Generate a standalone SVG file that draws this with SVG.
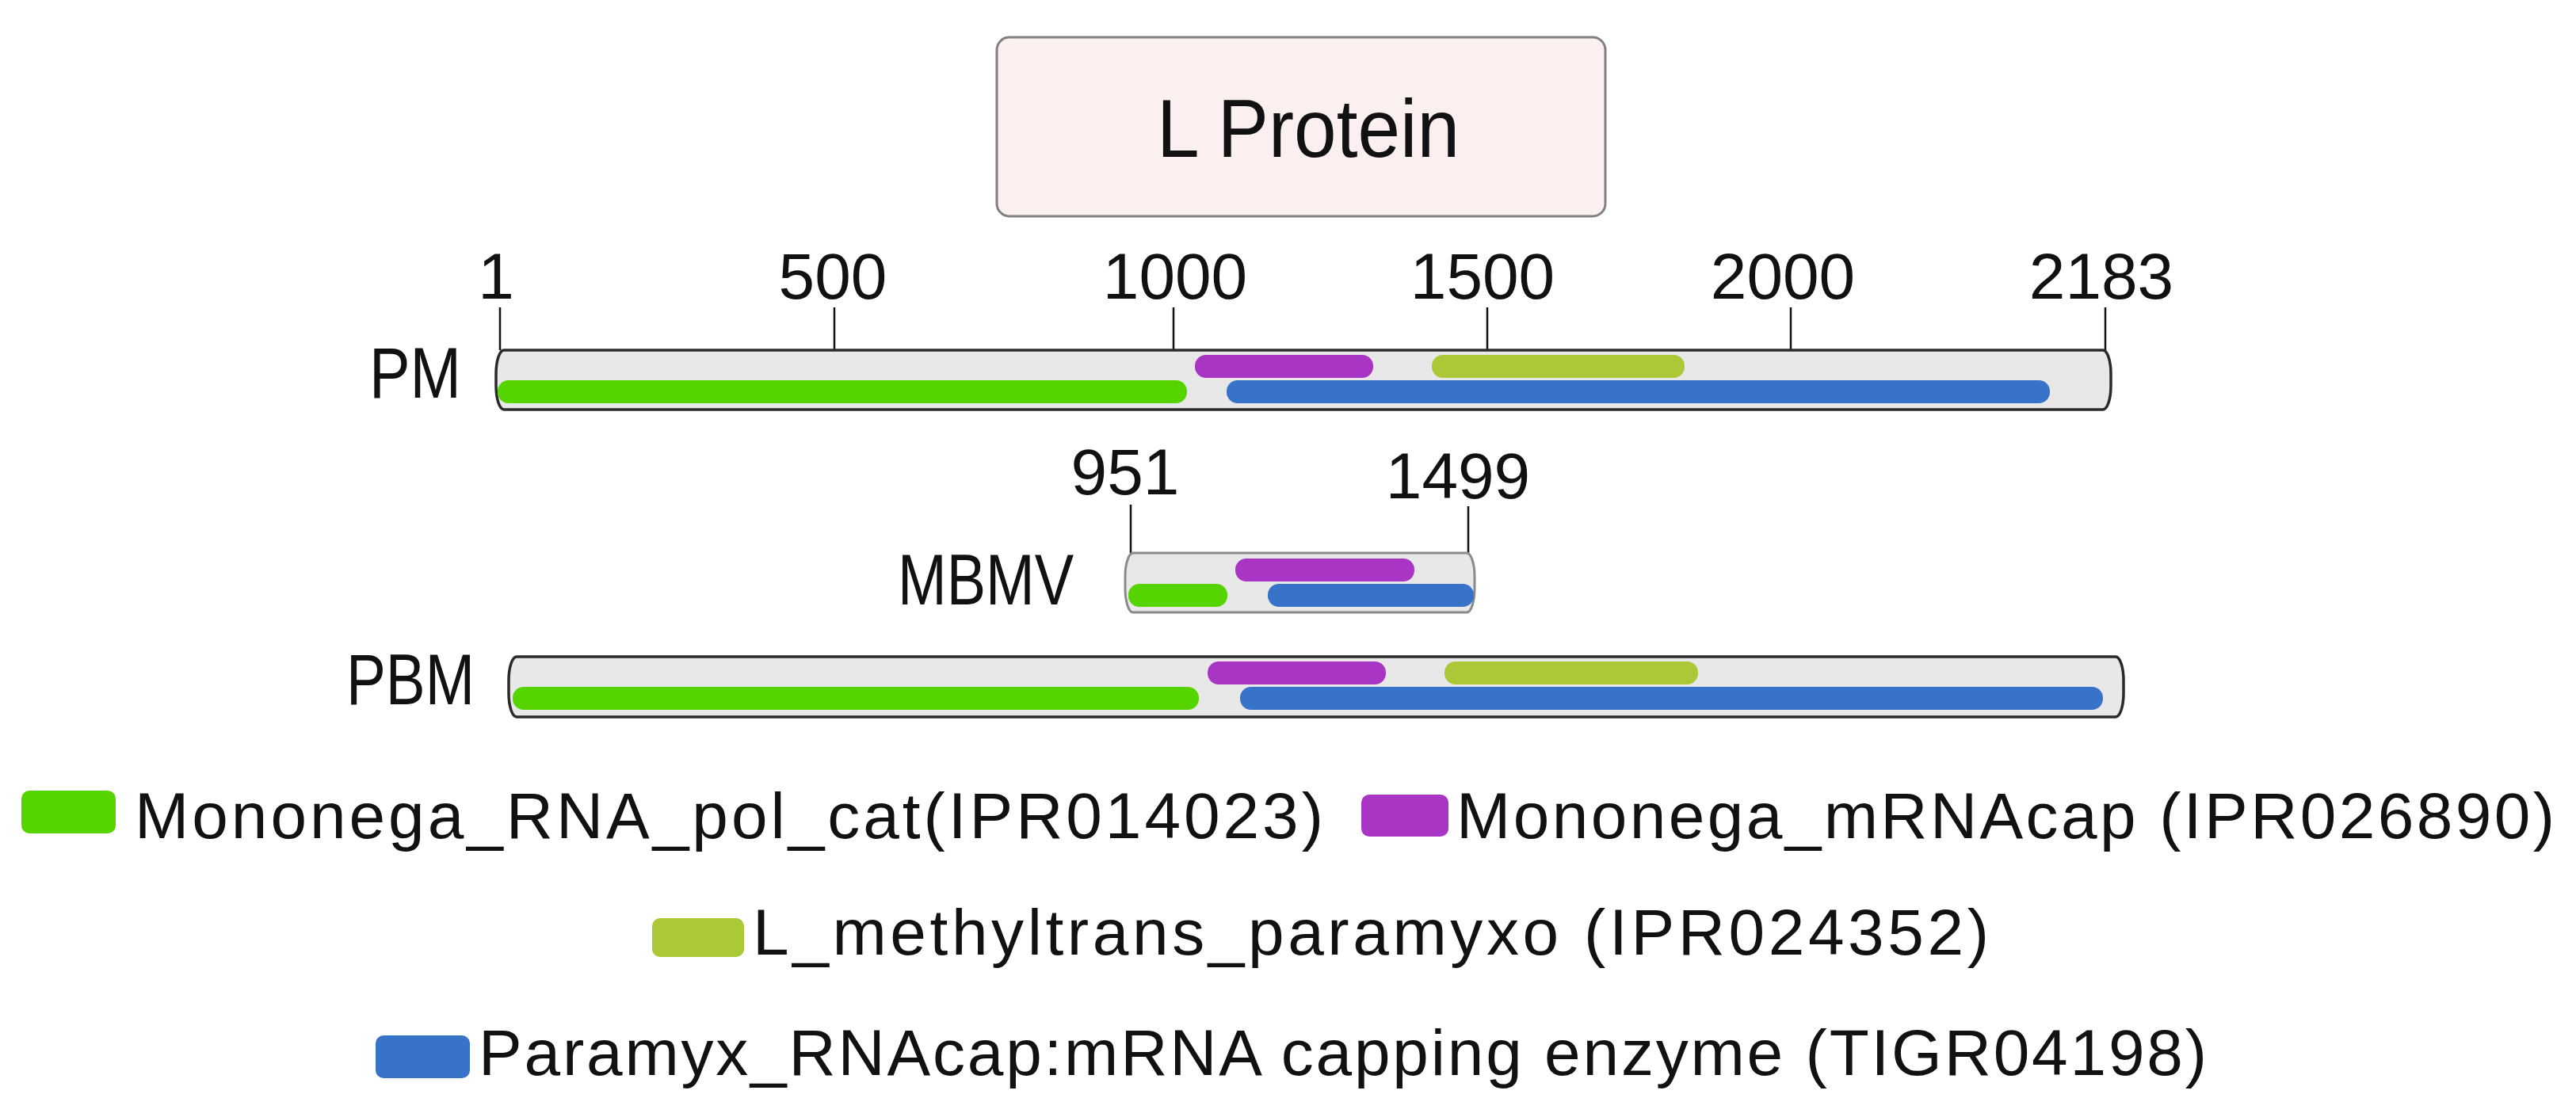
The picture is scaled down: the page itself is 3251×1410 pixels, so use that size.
<svg xmlns="http://www.w3.org/2000/svg" width="3251" height="1410" viewBox="0 0 3251 1410">
<style>
text{font-family:"Liberation Sans",Arial,sans-serif;fill:#111}
.num{font-size:82px;text-anchor:middle}
.lab{font-size:90px}
.leg{font-size:82px}
.tick{stroke:#111;stroke-width:2.5}
.bar{fill:#e8e8e8;stroke:#2a2a2a;stroke-width:3.5}
.barl{fill:#e8e8e8;stroke:#8a8a8a;stroke-width:3}
.g{fill:#56d400}.p{fill:#a935c5}.y{fill:#abc836}.b{fill:#3773c9}
</style>
<rect width="3251" height="1410" fill="#fff"/>
<g id="l-protein">
<rect x="1258" y="47" width="768" height="226" rx="16" fill="#fcefef" stroke="#808080" stroke-width="3"/>
<text x="1460" y="198" font-size="103" textLength="382" lengthAdjust="spacingAndGlyphs">L Protein</text>
</g>
<g id="axis">
<text class="num" x="626" y="377">1</text>
<text class="num" x="1051" y="377">500</text>
<text class="num" x="1483" y="377">1000</text>
<text class="num" x="1871" y="377">1500</text>
<text class="num" x="2250" y="377">2000</text>
<text class="num" x="2652" y="377">2183</text>
<text class="num" x="1420" y="624">951</text>
<text class="num" x="1840" y="629">1499</text>
</g>
<g id="connectors">
<line class="tick" x1="631" y1="388" x2="631" y2="442"/>
<line class="tick" x1="1053" y1="388" x2="1053" y2="442"/>
<line class="tick" x1="1481" y1="388" x2="1481" y2="442"/>
<line class="tick" x1="1877" y1="388" x2="1877" y2="442"/>
<line class="tick" x1="2260" y1="388" x2="2260" y2="442"/>
<line class="tick" x1="2657" y1="388" x2="2657" y2="442"/>
<line class="tick" x1="1427" y1="637" x2="1427" y2="698"/>
<line class="tick" x1="1853" y1="639" x2="1853" y2="698"/>
</g>
<g id="pm">
<text class="lab" x="466" y="502" textLength="116" lengthAdjust="spacingAndGlyphs">PM</text>
<rect class="bar" x="626" y="442" width="2038" height="75" rx="10" ry="30"/>
<rect class="p" x="1508" y="448" width="225" height="29" rx="14"/>
<rect class="y" x="1807" y="448" width="319" height="29" rx="14"/>
<rect class="g" x="628" y="480" width="870" height="29" rx="14"/>
<rect class="b" x="1548" y="480" width="1039" height="29" rx="14"/>
</g>
<g id="mbmv">
<text class="lab" x="1133" y="763" textLength="222" lengthAdjust="spacingAndGlyphs">MBMV</text>
<rect class="barl" x="1420" y="698" width="441" height="75" rx="10" ry="30"/>
<rect class="p" x="1559" y="705" width="226" height="29" rx="14"/>
<rect class="g" x="1424" y="737" width="125" height="29" rx="14"/>
<rect class="b" x="1600" y="737" width="260" height="29" rx="14"/>
</g>
<g id="pbm">
<text class="lab" x="437" y="889" textLength="162" lengthAdjust="spacingAndGlyphs">PBM</text>
<rect class="bar" x="642" y="829" width="2038" height="76" rx="10" ry="30"/>
<rect class="p" x="1524" y="835" width="225" height="29" rx="14"/>
<rect class="y" x="1823" y="835" width="320" height="29" rx="14"/>
<rect class="g" x="647" y="867" width="866" height="29" rx="14"/>
<rect class="b" x="1565" y="867" width="1089" height="29" rx="14"/>
</g>
<g id="legend">
<rect class="g" x="27" y="998" width="119" height="54" rx="10"/>
<text class="leg" x="170" y="1058" textLength="1500" lengthAdjust="spacing">Mononega_RNA_pol_cat(IPR014023)</text>
<rect class="p" x="1718" y="1003" width="110" height="53" rx="10"/>
<text class="leg" x="1838" y="1058" textLength="1386" lengthAdjust="spacing">Mononega_mRNAcap (IPR026890)</text>
<rect class="y" x="823" y="1159" width="116" height="49" rx="10"/>
<text class="leg" x="950" y="1205" textLength="1560" lengthAdjust="spacing">L_methyltrans_paramyxo (IPR024352)</text>
<rect class="b" x="474" y="1307" width="119" height="54" rx="10"/>
<text class="leg" x="604" y="1357" textLength="2181" lengthAdjust="spacing">Paramyx_RNAcap:mRNA capping enzyme (TIGR04198)</text>
</g>
</svg>
